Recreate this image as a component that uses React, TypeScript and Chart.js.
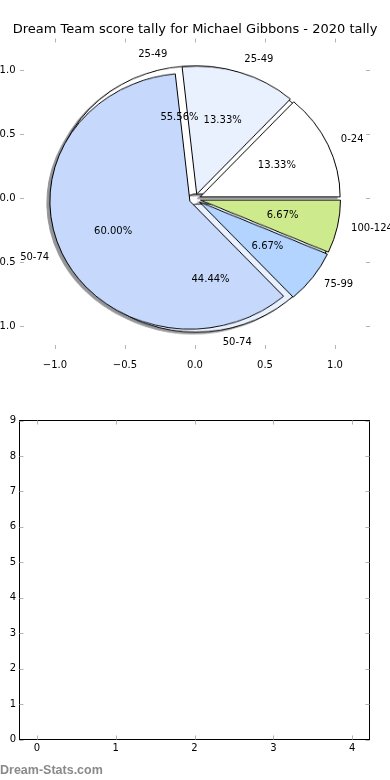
import React, { useEffect, useRef } from "react";
import { Chart, registerables } from "chart.js";

Chart.register(...registerables);

// ---------------- data ----------------
const TITLE = "Dream Team score tally for Michael Gibbons - 2020 tally";
const WATERMARK = "Dream-Stats.com";

// front pie
const pieACategories = ["0-24", "25-49", "50-74", "75-99", "100-124"];
const pieAValues = [2, 2, 9, 1, 1];
const pieAColors = ["#ffffff", "#eaf1fe", "#c6d9fd", "#b3d4ff", "#cdea8c"];

// back pie (with shadow)
const pieBCategories = ["25-49", "50-74"];
const pieBValues = [5, 4];
const pieBColors = ["#ffffff", "#eaf1fe"];

const EXPLODE = 0.04; // fraction of radius
const LABEL_DIST = 1.1;
const PCT_DIST = 0.6;

const topTickValues = [-1, -0.5, 0, 0.5, 1];
const topTickLabels = ["\u22121.0", "\u22120.5", "0.0", "0.5", "1.0"];

const bottomXTickValues = [0, 1, 2, 3, 4];
const bottomYTickValues = [0, 1, 2, 3, 4, 5, 6, 7, 8, 9];

// ---------------- style ----------------
const FONT = "'DejaVu Sans', sans-serif";
const TICK_COLOR = "#b4b4b4";
const TICK_LEN = 4;
const PIE_R = 140; // horizontal radius (px) in unscaled pie canvas
const PIE_SCALE_Y = 128 / 140;
const PIE_CANVAS = 320;

Chart.defaults.font.family = FONT;
Chart.defaults.color = "#000";

const innerTicksPlugin = {
  id: "innerTicks",
  afterDraw(chart: any) {
    const { ctx, chartArea: a, scales } = chart;
    ctx.save();
    ctx.strokeStyle = TICK_COLOR;
    ctx.lineWidth = 1;
    ctx.beginPath();
    scales.x.ticks.forEach((t: any) => {
      const px = Math.round(scales.x.getPixelForValue(t.value)) + 0.5;
      ctx.moveTo(px, a.top);
      ctx.lineTo(px, a.top + TICK_LEN);
      ctx.moveTo(px, a.bottom);
      ctx.lineTo(px, a.bottom - TICK_LEN);
    });
    scales.y.ticks.forEach((t: any) => {
      const py = Math.round(scales.y.getPixelForValue(t.value)) + 0.5;
      ctx.moveTo(a.left, py);
      ctx.lineTo(a.left + TICK_LEN, py);
      ctx.moveTo(a.right, py);
      ctx.lineTo(a.right - TICK_LEN, py);
    });
    ctx.stroke();
    ctx.restore();
  },
};

const framePlugin = {
  id: "frame",
  afterDraw(chart: any) {
    const { ctx, chartArea: a } = chart;
    ctx.save();
    ctx.strokeStyle = "#000";
    ctx.lineWidth = 1;
    ctx.strokeRect(a.left, a.top, a.right - a.left, a.bottom - a.top);
    ctx.restore();
  },
};

function drawPieText(chart: any, cats: string[], vals: number[]) {
  const { ctx, scales } = chart;
  const total = vals.reduce((s, v) => s + v, 0);
  let start = 0;
  ctx.save();
  ctx.fillStyle = "#000";
  ctx.font = `10px ${FONT}`;
  ctx.textBaseline = "middle";
  cats.forEach((c, i) => {
    const frac = vals[i] / total;
    const mid = (start + frac / 2) * Math.PI * 2;
    start += frac;
    const ex = EXPLODE * Math.cos(mid);
    const ey = EXPLODE * Math.sin(mid);
    const lx = ex + LABEL_DIST * Math.cos(mid);
    const ly = ey + LABEL_DIST * Math.sin(mid);
    ctx.textAlign = lx > 0 ? "left" : "right";
    ctx.fillText(c, scales.x.getPixelForValue(lx), scales.y.getPixelForValue(ly));
    const tx = ex + PCT_DIST * Math.cos(mid);
    const ty = ey + PCT_DIST * Math.sin(mid);
    ctx.textAlign = "center";
    ctx.fillText(
      (frac * 100).toFixed(2) + "%",
      scales.x.getPixelForValue(tx),
      scales.y.getPixelForValue(ty)
    );
  });
  ctx.restore();
}

const pieTextPlugin = {
  id: "pieText",
  afterDraw(chart: any) {
    drawPieText(chart, pieBCategories, pieBValues);
    drawPieText(chart, pieACategories, pieAValues);
  },
};

const explodePlugin = {
  id: "explode",
  beforeDatasetDraw(chart: any, args: any) {
    const ctx = chart.ctx;
    const d = EXPLODE * PIE_R;
    args.meta.data.forEach((arc: any) => {
      const mid = (arc.startAngle + arc.endAngle) / 2;
      ctx.save();
      ctx.translate(Math.cos(mid) * d, Math.sin(mid) * d);
      arc.draw(ctx);
      ctx.restore();
    });
    return false;
  },
};

function makePie(canvas: HTMLCanvasElement, cats: string[], vals: number[], colors: string[]) {
  // matplotlib draws counter-clockwise from east; Chart.js goes clockwise,
  // so feed the slices in reverse order starting at east (rotation 90).
  return new Chart(canvas, {
    type: "pie",
    data: {
      labels: [...cats].reverse(),
      datasets: [
        {
          data: [...vals].reverse(),
          backgroundColor: [...colors].reverse(),
          borderColor: "#000",
          borderWidth: 1,
          borderJoinStyle: "miter",
        } as any,
      ],
    },
    options: {
      responsive: false,
      animation: false,
      events: [],
      rotation: 90,
      radius: PIE_R,
      layout: { padding: 0 },
      plugins: {
        legend: { display: false },
        tooltip: { enabled: false },
        title: { display: false },
      },
    } as any,
    plugins: [explodePlugin],
  });
}

export default function App() {
  const topRef = useRef<HTMLCanvasElement>(null);
  const pieARef = useRef<HTMLCanvasElement>(null);
  const pieBRef = useRef<HTMLCanvasElement>(null);
  const bottomRef = useRef<HTMLCanvasElement>(null);

  useEffect(() => {
    const tickFont = { family: FONT, size: 10 };
    const pieB = makePie(pieBRef.current!, pieBCategories, pieBValues, pieBColors);
    const pieA = makePie(pieARef.current!, pieACategories, pieAValues, pieAColors);

    const top = new Chart(topRef.current!, {
      type: "scatter",
      data: { datasets: [] },
      options: {
        responsive: false,
        animation: false,
        events: [],
        layout: { padding: 0 },
        plugins: {
          legend: { display: false },
          tooltip: { enabled: false },
          title: {
            display: true,
            text: TITLE,
            color: "#000",
            font: { family: FONT, size: 13, weight: "normal" },
            padding: { top: 22.2, bottom: 0.7 },
          },
        },
        scales: {
          x: {
            type: "linear",
            min: -1.25,
            max: 1.25,
            grid: { display: false, drawTicks: false },
            border: { display: false },
            afterBuildTicks: (s: any) => {
              s.ticks = topTickValues.map((v) => ({ value: v }));
            },
            afterFit: (s: any) => {
              s.height = 31;
            },
            ticks: {
              autoSkip: false,
              maxRotation: 0,
              padding: 10,
              font: tickFont,
              color: "#000",
              callback: (v: any) => topTickLabels[topTickValues.indexOf(Number(v))],
            },
          },
          y: {
            type: "linear",
            min: -1.176,
            max: 1.25,
            grid: { display: false, drawTicks: false },
            border: { display: false },
            afterBuildTicks: (s: any) => {
              s.ticks = topTickValues.map((v) => ({ value: v }));
            },
            afterFit: (s: any) => {
              s.width = 20;
            },
            ticks: {
              autoSkip: false,
              padding: 4.5,
              font: tickFont,
              color: "#000",
              callback: (v: any) => topTickLabels[topTickValues.indexOf(Number(v))],
            },
          },
          yRight: {
            type: "linear",
            position: "right",
            min: -1.176,
            max: 1.25,
            grid: { display: false, drawTicks: false },
            border: { display: false },
            ticks: { display: false },
            afterFit: (s: any) => {
              s.width = 20;
            },
          },
        },
      } as any,
      plugins: [innerTicksPlugin, pieTextPlugin],
    });

    const bottom = new Chart(bottomRef.current!, {
      type: "scatter",
      data: { datasets: [] },
      options: {
        responsive: false,
        animation: false,
        events: [],
        layout: { padding: { left: 0, right: 20.5, top: 40.5, bottom: 0 } },
        plugins: {
          legend: { display: false },
          tooltip: { enabled: false },
          title: { display: false },
        },
        scales: {
          x: {
            type: "linear",
            min: -0.22,
            max: 4.22,
            grid: { display: false, drawTicks: false },
            border: { display: false },
            afterBuildTicks: (s: any) => {
              s.ticks = bottomXTickValues.map((v) => ({ value: v }));
            },
            afterFit: (s: any) => {
              s.height = 40.5;
            },
            ticks: {
              autoSkip: false,
              maxRotation: 0,
              padding: 2.5,
              font: tickFont,
              color: "#000",
              callback: (v: any) => String(v),
            },
          },
          y: {
            type: "linear",
            min: 0,
            max: 9,
            grid: { display: false, drawTicks: false },
            border: { display: false },
            afterBuildTicks: (s: any) => {
              s.ticks = bottomYTickValues.map((v) => ({ value: v }));
            },
            afterFit: (s: any) => {
              s.width = 19.5;
            },
            ticks: {
              autoSkip: false,
              padding: 3.5,
              font: tickFont,
              color: "#000",
              callback: (v: any) => String(v),
            },
          },
        },
      } as any,
      plugins: [framePlugin, innerTicksPlugin],
    });

    return () => {
      pieA.destroy();
      pieB.destroy();
      top.destroy();
      bottom.destroy();
    };
  }, []);

  return (
    <div
      style={{
        position: "absolute",
        left: 0,
        top: 0,
        width: 390,
        height: 780,
        overflow: "hidden",
        background: "#fff",
      }}
    >
      <div
        style={{
          position: "absolute",
          left: 195 - PIE_CANVAS / 2,
          top: 198.5 - PIE_CANVAS / 2,
          width: PIE_CANVAS,
          height: PIE_CANVAS,
          transform: `scale(1, ${PIE_SCALE_Y})`,
          transformOrigin: `${PIE_CANVAS / 2}px ${PIE_CANVAS / 2}px`,
          filter: "drop-shadow(-2.8px 2.8px 0px rgba(60,62,68,0.55))",
          zIndex: 1,
        }}
      >
        <canvas
          ref={pieBRef}
          width={PIE_CANVAS}
          height={PIE_CANVAS}
          style={{ position: "absolute", left: 0, top: 0, width: PIE_CANVAS, height: PIE_CANVAS }}
        />
        <canvas
          ref={pieARef}
          width={PIE_CANVAS}
          height={PIE_CANVAS}
          style={{ position: "absolute", left: 0, top: 0, width: PIE_CANVAS, height: PIE_CANVAS }}
        />
      </div>
      <canvas
        ref={topRef}
        width={390}
        height={380}
        style={{ position: "absolute", left: 0, top: 0, width: 390, height: 380, zIndex: 2 }}
      />
      <canvas
        ref={bottomRef}
        width={390}
        height={400}
        style={{ position: "absolute", left: 0, top: 380, width: 390, height: 400 }}
      />
      <div
        style={{
          position: "absolute",
          left: 0,
          top: 763,
          fontFamily: "'Liberation Sans', Arial, sans-serif",
          fontSize: "12.5px",
          lineHeight: "14px",
          fontWeight: "bold",
          color: "#8a8a8a",
          whiteSpace: "nowrap",
        }}
      >
        {WATERMARK}
      </div>
    </div>
  );
}
